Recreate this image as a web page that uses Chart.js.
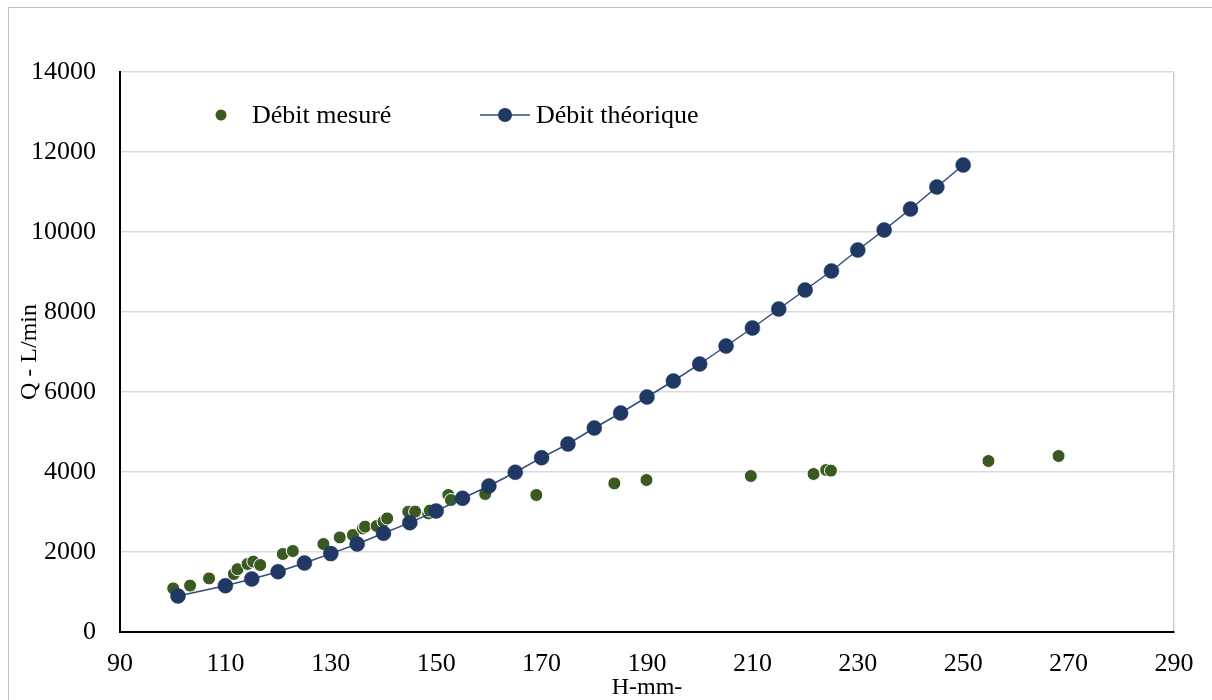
<!DOCTYPE html>
<html><head><meta charset="utf-8">
<script src="https://cdn.jsdelivr.net/npm/chart.js@4.4.0/dist/chart.umd.min.js"></script>
<style>
html,body{margin:0;padding:0;background:#fff;overflow:hidden}
#wrap{position:relative;width:1212px;height:700px}
#frame{position:absolute;left:8px;top:7px;width:1400px;height:900px;border:1.5px solid #c0c0c0;box-sizing:border-box}
canvas{position:absolute;left:0;top:0}
</style></head><body>
<div id="wrap"><div id="frame"></div><canvas id="c" width="1212" height="700"></canvas></div>
<script>
// ---- data ----
const measuredH = [100.1,103.3,106.9,111.6,112.3,114.2,115.3,116.6,120.9,122.8,128.6,131.7,134.2,136.1,136.5,138.7,140.0,140.7,144.7,146.0,148.5,148.8,152.3,152.8,159.3,169.0,183.8,189.9,209.7,221.6,224.0,224.9,254.8,268.1];
const measuredQ = [1090,1160,1340,1450,1570,1700,1760,1675,1950,2025,2200,2365,2425,2590,2635,2650,2760,2840,3005,3010,2965,3035,3425,3300,3450,3425,3715,3800,3900,3950,4050,4035,4275,4400];
const theoreticalH = [101,110,115,120,125,130,135,140,145,150,155,160,165,170,175,180,185,190,195,200,205,210,215,220,225,230,235,240,245,250];
const theoreticalQ = [900,1158,1325,1508,1725,1960,2200,2468,2733,3025,3343,3650,3993,4358,4700,5100,5475,5875,6275,6700,7150,7600,8075,8550,9025,9550,10050,10575,11125,11675];
const seriesNames = ['Débit mesuré','Débit théorique'];
const xTitle = 'H-mm-';
const yTitle = 'Q - L/min';
const xRange = [90, 290, 20];
const yRange = [0, 14000, 2000];

const GREEN = '#3b5a22';
const BLUE = '#1f3864';
const BLUE_LINE = '#2f4b7c';
const FONT = '"Liberation Serif", "Times New Roman", serif';

const toPts = (xs, ys) => xs.map((x, i) => ({x: x, y: ys[i]}));

const legendPlugin = {
  id: 'inLegend',
  afterDraw(chart) {
    const ctx = chart.ctx;
    ctx.save();
    ctx.font = '26px ' + FONT;
    ctx.textBaseline = 'middle';
    // measured
    ctx.beginPath(); ctx.arc(221, 115, 5.5, 0, Math.PI * 2);
    ctx.fillStyle = GREEN; ctx.fill();
    ctx.fillStyle = '#000';
    ctx.fillText(seriesNames[0], 252, 116);
    // theoretical
    ctx.beginPath(); ctx.moveTo(480, 115); ctx.lineTo(530, 115);
    ctx.strokeStyle = BLUE_LINE; ctx.lineWidth = 1.5; ctx.stroke();
    ctx.beginPath(); ctx.arc(505, 115, 7, 0, Math.PI * 2);
    ctx.fillStyle = BLUE; ctx.fill();
    ctx.fillStyle = '#000';
    ctx.fillText(seriesNames[1], 536, 116);
    ctx.restore();
  }
};

new Chart(document.getElementById('c'), {
  type: 'scatter',
  data: {
    datasets: [
      {
        label: seriesNames[1],
        data: toPts(theoreticalH, theoreticalQ),
        showLine: true,
        borderColor: BLUE_LINE,
        borderWidth: 1.5,
        backgroundColor: BLUE,
        pointBackgroundColor: BLUE,
        pointBorderColor: BLUE,
        pointBorderWidth: 0.5,
        pointRadius: 7.5,
        order: 0
      },
      {
        label: seriesNames[0],
        data: toPts(measuredH, measuredQ),
        showLine: true,
        borderColor: '#ffffff',
        borderWidth: 2,
        backgroundColor: GREEN,
        pointBackgroundColor: GREEN,
        pointBorderColor: '#ffffff',
        pointBorderWidth: 1,
        pointRadius: 6.5,
        order: 1
      }
    ]
  },
  options: {
    responsive: false,
    animation: false,
    devicePixelRatio: 1,
    layout: {padding: {left: 0, top: 72, right: 38, bottom: 0}},
    plugins: {legend: {display: false}, tooltip: {enabled: false}},
    scales: {
      x: {
        type: 'linear', min: xRange[0], max: xRange[1],
        ticks: {stepSize: xRange[2], color: '#000', padding: 17, font: {family: FONT, size: 26}, maxRotation: 0,
                callback: (v) => String(v)},
        grid: {drawTicks: false, color: (c) => (c.tick && c.tick.value === xRange[1]) ? '#d0d0d0' : 'rgba(0,0,0,0)', lineWidth: 1.5},
        border: {color: '#000', width: 2},
        title: {display: true, text: xTitle, color: '#000', font: {family: FONT, size: 24, lineHeight: 1}, padding: {top: 0, bottom: 0}},
        afterFit: (s) => { s.height = 68; }
      },
      y: {
        type: 'linear', min: yRange[0], max: yRange[1],
        ticks: {stepSize: yRange[2], color: '#000', padding: 24, font: {family: FONT, size: 26},
                callback: (v) => String(v)},
        grid: {drawTicks: false, color: '#d9d9d9', lineWidth: 1.5},
        border: {color: '#000', width: 2},
        title: {display: true, text: yTitle, color: '#000', font: {family: FONT, size: 24, lineHeight: 1}, padding: {top: 18, bottom: 0}},
        afterFit: (s) => { s.width = 120; }
      }
    }
  },
  plugins: [legendPlugin]
});
</script>
</body></html>
